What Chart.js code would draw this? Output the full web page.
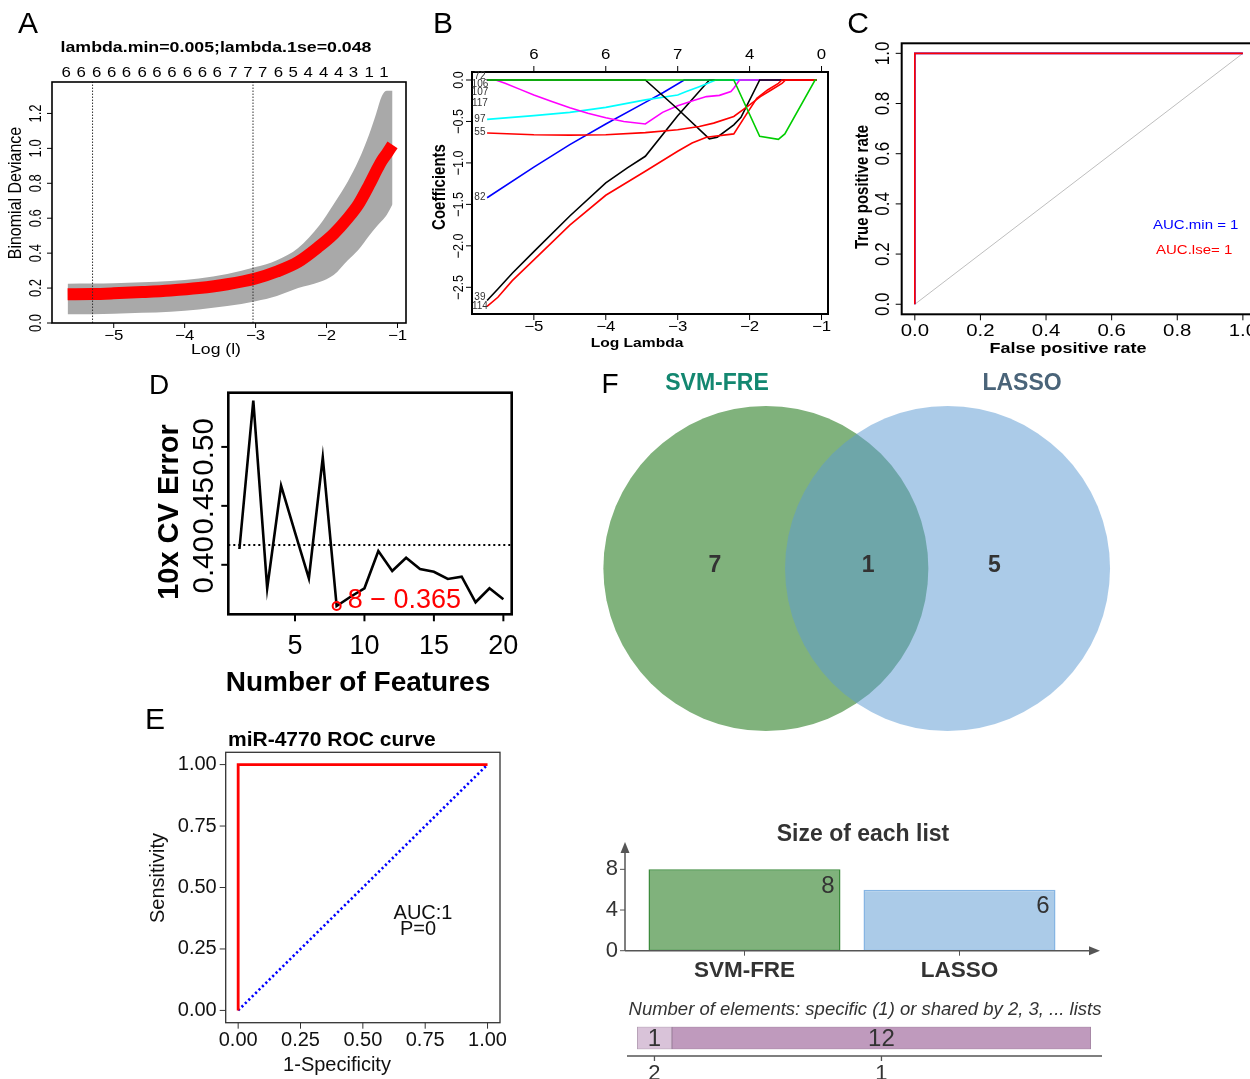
<!DOCTYPE html>
<html><head><meta charset="utf-8">
<script src="https://cdn.jsdelivr.net/npm/chart.js@4.4.1/dist/chart.umd.min.js"></script>
<style>
html,body{margin:0;padding:0;background:#fff;overflow:hidden;width:1250px;height:1079px;}
canvas{position:absolute;left:0;top:0;}
</style></head><body>
<canvas id="cA" width="1300" height="1079"></canvas>
<canvas id="cB" width="1300" height="1079"></canvas>
<canvas id="cC" width="1300" height="1079"></canvas>
<canvas id="cD" width="1300" height="1079"></canvas>
<canvas id="cE" width="1300" height="1079"></canvas>
<canvas id="cV" width="1300" height="1079"></canvas>
<canvas id="cF" width="1300" height="1079"></canvas>
<canvas id="cS" width="1300" height="1079"></canvas>
<script>
// ---------------- DATA ----------------
// Panel A: cross-validated binomial deviance vs log(lambda)
const aLambdaMin = 0.005, aLambda1se = 0.048;
const aLogLambda = [-5.65,-5.3,-5.0,-4.6,-4.2,-3.8,-3.4,-3.0,-2.7,-2.4,-2.1,-1.9,-1.7,-1.55,-1.4,-1.3,-1.22,-1.15,-1.07];
const aDevMean   = [0.165,0.166,0.17,0.177,0.186,0.2,0.222,0.255,0.295,0.35,0.44,0.51,0.6,0.68,0.79,0.87,0.93,0.97,1.02];
const aDevUpper  = [0.225,0.226,0.228,0.233,0.24,0.255,0.28,0.32,0.36,0.43,0.56,0.68,0.81,0.93,1.08,1.2,1.3,1.33,1.33];
const aDevLower  = [0.05,0.05,0.053,0.058,0.065,0.078,0.097,0.125,0.155,0.2,0.235,0.275,0.36,0.42,0.5,0.55,0.585,0.62,0.68];
const aTopLambda = [-5.67,-5.46,-5.24,-5.03,-4.82,-4.60,-4.39,-4.18,-3.96,-3.75,-3.54,-3.32,-3.11,-2.90,-2.68,-2.47,-2.26,-2.04,-1.83,-1.62,-1.40,-1.19];
const aTopNz     = ['6','6','6','6','6','6','6','6','6','6','6','7','7','7','6','5','4','4','4','3','1','1'];
const aXTicks = [-5,-4,-3,-2,-1];
const aYTicks = [0,0.2,0.4,0.6,0.8,1.0,1.2];

// Panel B: coefficient paths vs log lambda
const bPath72  = [[-5.65,0],[-2.22,0],[-1.86,-0.68],[-1.6,-0.715],[-1.51,-0.65],[-1.09,0],[-1.07,0]];
const bPath114 = [[-5.65,-2.73],[-5.5,-2.62],[-5.3,-2.42],[-5.0,-2.17],[-4.5,-1.75],[-4.0,-1.39],[-3.45,-1.1],[-3.0,-0.86],[-2.8,-0.76],[-2.6,-0.69],[-2.22,-0.65],[-2.05,-0.42],[-1.9,-0.22],[-1.75,-0.12],[-1.6,-0.04],[-1.55,0],[-1.07,0]];
const bPath55  = [[-5.65,-0.64],[-5.0,-0.66],[-4.5,-0.665],[-4.0,-0.66],[-3.45,-0.635],[-3.0,-0.6],[-2.7,-0.56],[-2.5,-0.52],[-2.22,-0.44],[-2.0,-0.3],[-1.85,-0.2],[-1.7,-0.12],[-1.55,-0.04],[-1.5,0],[-1.07,0]];
const bPath117 = [[-5.65,0],[-3.45,0],[-3.0,-0.35],[-2.56,-0.71],[-2.45,-0.69],[-2.22,-0.54],[-2.12,-0.45],[-1.86,0],[-1.07,0]];
const bPath106 = [[-5.65,0],[-5.53,0],[-5.4,-0.04],[-5.2,-0.11],[-5.0,-0.18],[-4.75,-0.26],[-4.5,-0.335],[-4.25,-0.4],[-4.0,-0.455],[-3.75,-0.5],[-3.45,-0.53],[-3.21,-0.39],[-3.0,-0.31],[-2.79,-0.25],[-2.6,-0.2],[-2.42,-0.185],[-2.26,-0.14],[-2.22,-0.1],[-2.14,0],[-1.07,0]];
const bPath97  = [[-5.65,-0.475],[-5.0,-0.43],[-4.5,-0.39],[-4.0,-0.33],[-3.45,-0.24],[-3.0,-0.18],[-2.88,-0.14],[-2.7,-0.08],[-2.47,0],[-1.07,0]];
const bPath82  = [[-5.65,-1.42],[-5.0,-1.05],[-4.5,-0.78],[-4.0,-0.53],[-3.45,-0.27],[-3.2,-0.15],[-2.91,0],[-1.07,0]];
const bPath39  = [[-5.65,-2.66],[-5.5,-2.52],[-5.3,-2.33],[-5.0,-2.07],[-4.5,-1.64],[-4.0,-1.24],[-3.7,-1.06],[-3.45,-0.92],[-3.0,-0.43],[-2.56,0],[-1.07,0]];
const bVarNames  = ['72','106','107','117','97','55','82','39','114'];
const bVarCoefAt = [0.04,-0.048,-0.153,-0.28,-0.47,-0.636,-1.42,-2.62,-2.73];
const bXTicks = [-5,-4,-3,-2,-1];
const bTopNz  = ['6','6','7','4','0'];
const bYTicks = [-2.5,-2.0,-1.5,-1.0,-0.5,0.0];

// Panel C: ROC of LASSO models
const cFpr = [0,0,1], cTpr = [0,1,1];
const cChanceX = [0,1], cChanceY = [0,1];
const cTicks = [0,0.2,0.4,0.6,0.8,1.0];
const cAucMin = 1, cAucLse = 1;

// Panel D: SVM-RFE 10x CV error
const dFeatures = [1,2,3,4,5,6,7,8,9,10,11,12,13,14,15,16,17,18,19,20];
const dCvError  = [0.4134,0.5392,0.3801,0.4671,0.4276,0.3885,0.4909,0.365,0.3729,0.3801,0.4117,0.3947,0.406,0.3964,0.3941,0.388,0.3899,0.3682,0.3801,0.3707];
const dThreshold = 0.4168;
const dBestIndex = 7;
const dXTicks = [5,10,15,20];
const dYTicks = [0.40,0.45,0.50];

// Panel E: miR-4770 ROC
const eFpr = [0,0,1], eSens = [0,1,1];
const eChanceX = [0,1], eChanceY = [0,1];
const eTicks = [0,0.25,0.5,0.75,1.0];

// Panel F: Venn + list sizes
const vennSets   = ['SVM-FRE','LASSO'];
const vennCounts = [7,1,5];
const listSizes  = [8,6];
const sharedByLabels = ['2','1'];
const sharedByCounts = [1,12];
const fYTicks = [0,4,8];

// ---------------- HELPERS ----------------
const W = 1300, H = 1079;
const FF = '"Liberation Sans", Arial, Helvetica, sans-serif';
const fnt = (size, weight, style) => `${style||'normal'} ${weight||'normal'} ${size}px ${FF}`;
const minus = s => String(s).replace(/-/g, '\u2212');
const pts = arr => arr.map(p => ({x:p[0], y:p[1]}));
const zip = (xs, ys) => xs.map((x,i) => ({x:x, y:ys[i]}));

function txt(ctx, s, x, y, o) {
  o = o || {};
  ctx.save();
  ctx.font = o.font || fnt(16);
  ctx.fillStyle = o.color || '#000';
  ctx.textAlign = o.align || 'center';
  ctx.textBaseline = o.baseline || 'middle';
  ctx.translate(x, y);
  if (o.rotate) { ctx.rotate(o.rotate * Math.PI / 180); if (o.stretch) ctx.scale(1, o.stretch); }
  else if (o.stretch) ctx.scale(o.stretch, 1);
  ctx.fillText(s, 0, 0);
  ctx.restore();
}
function seg(ctx, x1, y1, x2, y2) { ctx.beginPath(); ctx.moveTo(x1,y1); ctx.lineTo(x2,y2); ctx.stroke(); }

function panel(id, o) {
  return {
    id: id,
    afterDatasetsDraw(chart) {
      const ctx = chart.ctx, ca = chart.chartArea;
      ctx.save();
      if (o.box) {
        ctx.strokeStyle = o.box.color || '#000'; ctx.lineWidth = o.box.width || 1;
        ctx.strokeRect(ca.left, ca.top, ca.right - ca.left, ca.bottom - ca.top);
      }
      (o.axes || []).forEach(ax => {
        const sc = chart.scales[ax.scale];
        ax.values.forEach((v, i) => {
          const p = sc.getPixelForValue(v);
          const len = ax.tickLen || 0;
          ctx.strokeStyle = ax.tickColor || '#000'; ctx.lineWidth = ax.tickWidth || 1;
          let tx, ty;
          if (ax.side === 'bottom') { if (len) seg(ctx, p, ca.bottom, p, ca.bottom + len); tx = p; ty = ca.bottom + ax.offset; }
          else if (ax.side === 'top') { if (len) seg(ctx, p, ca.top, p, ca.top - len); tx = p; ty = ca.top - ax.offset; }
          else { if (len) seg(ctx, ca.left, p, ca.left - len, p); tx = ca.left - ax.offset; ty = p; }
          txt(ctx, ax.labels[i], tx, ty, {font: ax.font, color: ax.color, rotate: ax.rotate, align: ax.align, stretch: ax.stretch});
        });
      });
      (o.texts || []).forEach(t => {
        let x = t.x, y = t.y;
        if (t.xv !== undefined) x = chart.scales.x.getPixelForValue(t.xv) + (t.dx || 0);
        if (t.yv !== undefined) y = chart.scales.y.getPixelForValue(t.yv) + (t.dy || 0);
        txt(ctx, t.text, x, y, t);
      });
      ctx.restore();
    }
  };
}

function baseOpts(area, xr, yr) {
  return {
    responsive: false, animation: false, devicePixelRatio: 1, events: [],
    layout: { padding: { left: area[0], top: area[1], right: W - area[2], bottom: H - area[3] } },
    scales: {
      x: { type: 'linear', display: false, min: xr[0], max: xr[1] },
      y: { type: 'linear', display: false, min: yr[0], max: yr[1] }
    },
    plugins: { legend: { display: false }, tooltip: { enabled: false } },
    elements: { point: { radius: 0 }, line: { tension: 0 } }
  };
}
function lineDs(data, color, width, extra) {
  return Object.assign({ data: data, borderColor: color, backgroundColor: color, borderWidth: width, pointRadius: 0, fill: false }, extra || {});
}

// ---------------- PANEL A ----------------
const aYRange = [0, 1.38];
const SA = 1.2;
new Chart(document.getElementById('cA'), {
  type: 'line',
  data: { datasets: [
    lineDs([{x:Math.log(aLambdaMin), y:aYRange[0]}, {x:Math.log(aLambdaMin), y:aYRange[1]}], '#333', 1, {borderDash:[1.5,1.5]}),
    lineDs([{x:Math.log(aLambda1se), y:aYRange[0]}, {x:Math.log(aLambda1se), y:aYRange[1]}], '#333', 1, {borderDash:[1.5,1.5]}),
    lineDs(zip(aLogLambda, aDevMean), '#ff0000', 12, {borderCapStyle:'butt', cubicInterpolationMode:'monotone'}),
    lineDs(zip(aLogLambda, aDevUpper), '#a9a9a9', 0, {fill:'+1', backgroundColor:'#a9a9a9', cubicInterpolationMode:'monotone'}),
    lineDs(zip(aLogLambda, aDevLower), '#a9a9a9', 0, {cubicInterpolationMode:'monotone'})
  ]},
  options: baseOpts([52, 82, 406, 323], [-5.87, -0.88], aYRange),
  plugins: [panel('pA', {
    box: {width: 1.6},
    axes: [
      {scale:'x', side:'bottom', values:aXTicks, labels:aXTicks.map(minus), tickLen:5, offset:13, font:fnt(14), stretch:SA},
      {scale:'x', side:'top', values:aTopLambda, labels:aTopNz, tickLen:0, offset:9, font:fnt(14), stretch:SA},
      {scale:'y', side:'left', values:aYTicks, labels:aYTicks.map(v=>v.toFixed(1)), tickLen:5, offset:15, font:fnt(13), rotate:-90, stretch:SA}
    ],
    texts: [
      {text:'A', x:28, y:25, font:fnt(30)},
      {text:`lambda.min=${aLambdaMin};lambda.1se=${aLambda1se}`, x:216, y:48, font:fnt(14.8,'bold'), stretch:SA},
      {text:'Binomial Deviance', x:16, y:193, font:fnt(16), rotate:-90, stretch:SA},
      {text:'Log (l)', x:216, y:350, font:fnt(14.7), stretch:SA}
    ]
  })]
});

// ---------------- PANEL B ----------------
const SB = 1.2;
const bLines = [
  [bPath72,'#00cd00'],[bPath114,'#ff0000'],[bPath55,'#ff0000'],[bPath117,'#000000'],
  [bPath106,'#ff00ff'],[bPath97,'#00ffff'],[bPath82,'#0000ff'],[bPath39,'#000000']
];
new Chart(document.getElementById('cB'), {
  type: 'line',
  data: { datasets: bLines.map(l => lineDs(pts(l[0]), l[1], 1.6)) },
  options: baseOpts([472, 72, 828, 314], [-5.86, -0.91], [-2.822, 0.0965]),
  plugins: [panel('pB', {
    box: {width: 2},
    axes: [
      {scale:'x', side:'bottom', values:bXTicks, labels:bXTicks.map(minus), tickLen:6, offset:13, font:fnt(14), stretch:SB},
      {scale:'x', side:'top', values:bXTicks, labels:bTopNz, tickLen:6, offset:17, font:fnt(14), stretch:SB},
      {scale:'y', side:'left', values:bYTicks, labels:bYTicks.map(v=>minus(v.toFixed(1))), tickLen:6, offset:13, font:fnt(12.5), rotate:-90, stretch:SB}
    ],
    texts: [
      {text:'B', x:443, y:25, font:fnt(30)},
      {text:'Coefficients', x:440, y:187, font:fnt(15,'bold'), rotate:-90, stretch:SB},
      {text:'Log Lambda', x:637, y:343, font:fnt(13,'bold'), stretch:SB}
    ].concat(bVarNames.map((n,i) => ({text:n, xv:-5.75, yv:bVarCoefAt[i], font:fnt(10), color:'#333'})))
  })]
});

// ---------------- PANEL C ----------------
const SC = 1.2;
new Chart(document.getElementById('cC'), {
  type: 'line',
  data: { datasets: [
    lineDs(zip(cFpr, cTpr), '#ff0000', 1.6),
    lineDs(zip(cFpr, cTpr), '#0000ff', 1.6),
    lineDs(zip(cChanceX, cChanceY), '#bebebe', 1)
  ]},
  options: baseOpts([901.7, 43.3, 1256, 314.3], [-0.04, 1.04], [-0.04, 1.04]),
  plugins: [panel('pC', {
    box: {width: 2},
    axes: [
      {scale:'x', side:'bottom', values:cTicks, labels:cTicks.map(v=>v.toFixed(1)), tickLen:6, offset:17, font:fnt(17), stretch:SC},
      {scale:'y', side:'left', values:cTicks, labels:cTicks.map(v=>v.toFixed(1)), tickLen:6, offset:18, font:fnt(17), rotate:-90, stretch:SC}
    ],
    texts: [
      {text:'C', x:858, y:25, font:fnt(30)},
      {text:'True positive rate', x:863, y:187, font:fnt(15,'bold'), rotate:-90, stretch:SC},
      {text:'False positive rate', x:1068, y:349, font:fnt(15,'bold'), stretch:SC},
      {text:`AUC.min = ${cAucMin}`, x:1153, y:226, font:fnt(12.5), color:'#0000ff', align:'left', stretch:SC},
      {text:`AUC.lse= ${cAucLse}`, x:1156, y:251, font:fnt(12.5), color:'#ff0000', align:'left', stretch:SC}
    ]
  })]
});

// ---------------- PANEL D ----------------
const dXRange = [0.2, 20.6];
new Chart(document.getElementById('cD'), {
  type: 'line',
  data: { datasets: [
    lineDs([{x:dFeatures[dBestIndex], y:dCvError[dBestIndex]}], '#ff0000', 2, {showLine:false, pointRadius:4, pointBorderWidth:2, pointBackgroundColor:'rgba(0,0,0,0)', pointBorderColor:'#ff0000'}),
    lineDs(zip(dFeatures, dCvError), '#000', 2.6),
    lineDs([{x:dXRange[0], y:dThreshold}, {x:dXRange[1], y:dThreshold}], '#000', 2, {borderDash:[2,3]})
  ]},
  options: baseOpts([228.3, 392.7, 511.7, 614.3], dXRange, [0.358, 0.546]),
  plugins: [panel('pD', {
    box: {width: 2.6},
    axes: [
      {scale:'x', side:'bottom', values:dXTicks, labels:dXTicks.map(String), tickLen:7, tickWidth:2, offset:32, font:fnt(27)},
      {scale:'y', side:'left', values:dYTicks, labels:dYTicks.map(v=>v.toFixed(2)), tickLen:7, tickWidth:2, offset:23, font:fnt(29.5), rotate:-90}
    ],
    texts: [
      {text:'D', x:159, y:386, font:fnt(28)},
      {text:'10x CV Error', x:170, y:512, font:fnt(29,'bold'), rotate:-90},
      {text:'Number of Features', x:358, y:683, font:fnt(28,'bold')},
      {text:`${dFeatures[dBestIndex]} \u2212 ${dCvError[dBestIndex].toFixed(3)}`, xv:dFeatures[dBestIndex], yv:dCvError[dBestIndex], dx:11, dy:-6, font:fnt(27), color:'#ff0000', align:'left'}
    ]
  })]
});

// ---------------- PANEL E ----------------
new Chart(document.getElementById('cE'), {
  type: 'line',
  data: { datasets: [
    lineDs(zip(eFpr, eSens), '#ff0000', 2.8),
    lineDs(zip(eChanceX, eChanceY), '#0000ff', 2.6, {borderDash:[2.2,2.6]})
  ]},
  options: baseOpts([225.7, 752.3, 500, 1022.7], [-0.05, 1.05], [-0.05, 1.05]),
  plugins: [panel('pE', {
    box: {width: 1.3, color:'#333'},
    axes: [
      {scale:'x', side:'bottom', values:eTicks, labels:eTicks.map(v=>v.toFixed(2)), tickLen:6, tickColor:'#333', offset:18, font:fnt(20), color:'#111'},
      {scale:'y', side:'left', values:eTicks, labels:eTicks.map(v=>v.toFixed(2)), tickLen:6, tickColor:'#333', offset:9, font:fnt(20), color:'#111', align:'right'}
    ],
    texts: [
      {text:'E', x:155, y:721, font:fnt(30)},
      {text:'miR-4770 ROC curve', x:228, y:740, font:fnt(21,'bold'), align:'left'},
      {text:'Sensitivity', x:158, y:878, font:fnt(20), rotate:-90, color:'#111'},
      {text:'1-Specificity', x:337, y:1065, font:fnt(20), color:'#111'},
      {text:'AUC:1', x:423, y:913, font:fnt(20), color:'#111'},
      {text:'P=0', x:418, y:929, font:fnt(20), color:'#111'}
    ]
  })]
});

// ---------------- PANEL F: VENN ----------------
const VENN_D = 0.559, VENN_R = 1;
new Chart(document.getElementById('cV'), {
  type: 'scatter',
  data: { datasets: [{
    data: [{x:-VENN_D, y:0}, {x:VENN_D, y:0}],
    pointBackgroundColor: ['#80b27c', 'rgba(93,155,211,0.52)'],
    pointBorderWidth: 0,
    pointRadius: (c) => { const s = c.chart.scales.x; return s.getPixelForValue(VENN_R) - s.getPixelForValue(0); },
    clip: false
  }]},
  options: baseOpts([596.7, 398.5, 1116.7, 738.5], [-1.6, 1.6], [-1.046, 1.046]),
  plugins: [panel('pV', {
    texts: [
      {text:'F', x:610, y:385, font:fnt(28)},
      {text:vennSets[0], x:717, y:384, font:fnt(23,'bold'), color:'#138770'},
      {text:vennSets[1], x:1022, y:384, font:fnt(23,'bold'), color:'#4a6479'},
      {text:String(vennCounts[0]), xv:-0.872, yv:0.02, font:fnt(23,'bold'), color:'#333'},
      {text:String(vennCounts[1]), xv:0.07, yv:0.02, font:fnt(23,'bold'), color:'#333'},
      {text:String(vennCounts[2]), xv:0.847, yv:0.02, font:fnt(23,'bold'), color:'#333'}
    ]
  })]
});

// ---------------- PANEL F: LIST SIZES ----------------
const fBarOpts = baseOpts([637, 842.9, 1067, 950.7], [0, 1], [0, 10.6]);
fBarOpts.scales.x = { type:'category', display:false, offset:true };
new Chart(document.getElementById('cF'), {
  type: 'bar',
  data: { labels: vennSets, datasets: [{
    data: listSizes,
    backgroundColor: ['#80b27c', '#abcbe8'],
    borderColor: ['#3d8b3d', '#86b5e3'],
    borderWidth: 1.5, borderSkipped: false,
    barPercentage: 0.893, categoryPercentage: 1
  }]},
  options: fBarOpts,
  plugins: [{
    id: 'fBarDeco',
    afterDatasetsDraw(chart) {
      const ctx = chart.ctx, ca = chart.chartArea, xs = chart.scales.x, ys = chart.scales.y;
      const ax = ca.left - 12, ay = ys.getPixelForValue(0);
      ctx.save();
      ctx.strokeStyle = '#555'; ctx.fillStyle = '#555'; ctx.lineWidth = 1.5;
      seg(ctx, ax, ay, ax, ca.top + 6);
      ctx.beginPath(); ctx.moveTo(ax, ca.top - 1); ctx.lineTo(ax - 4.5, ca.top + 10); ctx.lineTo(ax + 4.5, ca.top + 10); ctx.closePath(); ctx.fill();
      const xEnd = ca.right + 33;
      seg(ctx, ax, ay, xEnd - 6, ay);
      ctx.beginPath(); ctx.moveTo(xEnd, ay); ctx.lineTo(xEnd - 11, ay - 4.5); ctx.lineTo(xEnd - 11, ay + 4.5); ctx.closePath(); ctx.fill();
      ctx.lineWidth = 1;
      fYTicks.forEach(v => { const p = ys.getPixelForValue(v); seg(ctx, ax - 5, p, ax, p); txt(ctx, String(v), ax - 7, p, {font:fnt(22), color:'#333', align:'right'}); });
      vennSets.forEach((n, i) => { const p = xs.getPixelForValue(i); seg(ctx, p, ay, p, ay + 5); txt(ctx, n, p, ay + 20, {font:fnt(22.5,'bold'), color:'#333'}); });
      chart.getDatasetMeta(0).data.forEach((bar, i) => {
        txt(ctx, String(listSizes[i]), bar.x + bar.width / 2 - 6, bar.y + 17, {font:fnt(24), color:'#333', align:'right'});
      });
      txt(ctx, 'Size of each list', 863, 835, {font:fnt(23,'bold'), color:'#333'});
      ctx.restore();
    }
  }]
});

// ---------------- PANEL F: SHARED STRIP ----------------
const sTotal = sharedByCounts[0] + sharedByCounts[1];
const sOpts = baseOpts([637, 1026.7, 1091, 1049.3], [0, sTotal], [0, 1]);
sOpts.indexAxis = 'y';
sOpts.scales.x.stacked = true;
sOpts.scales.y = { type:'category', display:false, stacked:true };
new Chart(document.getElementById('cS'), {
  type: 'bar',
  data: { labels: [''], datasets: [
    { data: [sharedByCounts[0]], backgroundColor:'#d9c3d9', borderColor:'#a893a8', borderWidth:1, borderSkipped:false, barPercentage:1, categoryPercentage:1 },
    { data: [sharedByCounts[1]], backgroundColor:'#bf9abd', borderColor:'#9c7f9c', borderWidth:1, borderSkipped:false, barPercentage:1, categoryPercentage:1 }
  ]},
  options: sOpts,
  plugins: [{
    id: 'sDeco',
    afterDatasetsDraw(chart) {
      const ctx = chart.ctx, ca = chart.chartArea, xs = chart.scales.x;
      ctx.save();
      ctx.strokeStyle = '#555'; ctx.lineWidth = 1.3;
      const ay = ca.bottom + 6.7;
      seg(ctx, ca.left - 10, ay, ca.right + 11, ay);
      const mids = [sharedByCounts[0] / 2, sharedByCounts[0] + sharedByCounts[1] / 2];
      mids.forEach((m, i) => {
        const p = xs.getPixelForValue(m);
        seg(ctx, p, ay, p, ay + 5);
        txt(ctx, sharedByLabels[i], p, ay + 18, {font:fnt(22), color:'#333'});
        txt(ctx, String(sharedByCounts[i]), p, (ca.top + ca.bottom) / 2 + 1.5, {font:fnt(24), color:'#333'});
      });
      txt(ctx, 'Number of elements: specific (1) or shared by 2, 3, ... lists', 865, 1010, {font:fnt(18.5,'normal','italic'), color:'#333'});
      ctx.restore();
    }
  }]
});
</script>
</body></html>
